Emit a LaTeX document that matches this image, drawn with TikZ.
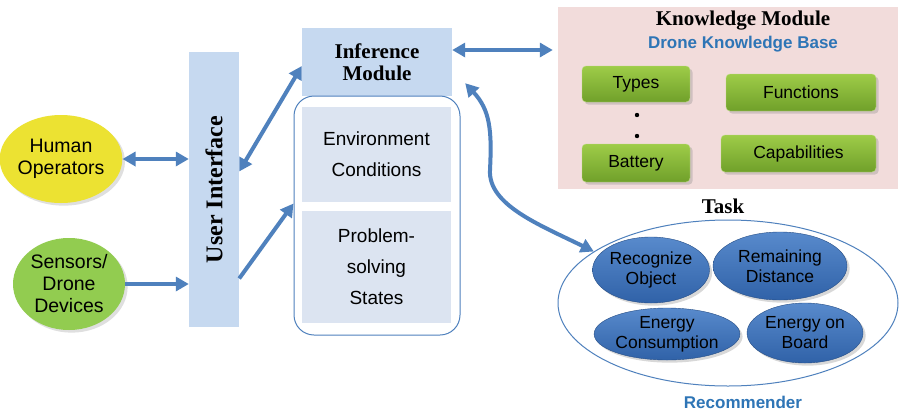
\documentclass[tikz,border=0pt]{standalone}
\usepackage{fontspec}
\setmainfont{Liberation Sans}
\newfontfamily\titlefont{Liberation Serif}
\usepackage{graphicx}
\usepackage{xcolor}
\usepackage{tikz}
\usetikzlibrary{arrows.meta, shapes, shapes.geometric, positioning, calc, shadows}
\definecolor{arrowblue}{RGB}{79,129,189}
\definecolor{uiblue}{RGB}{198,217,240}
\definecolor{stategray}{RGB}{220,228,241}
\definecolor{kmpink}{RGB}{242,220,219}
\definecolor{titleblue}{RGB}{46,117,182}
\definecolor{humanyellow}{RGB}{236,226,50}
\definecolor{sensorgreen}{RGB}{146,204,80}
\definecolor{kgreentop}{RGB}{158,204,72}
\definecolor{kgreenbot}{RGB}{112,160,42}
\definecolor{tasktop}{RGB}{88,138,204}
\definecolor{taskbot}{RGB}{48,98,168}
\tikzstyle{link} = [line width=4pt, arrowblue, -{Triangle[length=13pt,width=14pt]}]
\tikzstyle{twolink} = [link, {Triangle[length=13pt,width=14pt]}-{Triangle[length=13pt,width=14pt]}]
\tikzstyle{actor} = [ellipse, inner sep=0pt, align=center, drop shadow={opacity=0.25}, font=\fontsize{19.5}{22}\selectfont]
\tikzstyle{panel} = [rectangle, inner sep=0pt, align=center]
\tikzstyle{boldtitle} = [font=\titlefont\bfseries\fontsize{21}{22}\selectfont, align=center]
\tikzstyle{statebox} = [panel, fill=stategray, minimum width=149pt, font=\fontsize{19}{31}\selectfont]
\tikzstyle{kbox} = [panel, rounded corners=4pt, top color=kgreentop, bottom color=kgreenbot, draw=kgreentop!70!white, drop shadow={opacity=0.3}, font=\fontsize{17.5}{20}\selectfont]
\tikzstyle{taskitem} = [ellipse, inner sep=0pt, align=center, top color=tasktop, bottom color=taskbot, draw=taskbot!80!black, drop shadow={opacity=0.3}, font=\fontsize{17.5}{20}\selectfont]

\begin{document}
\begin{tikzpicture}[x=1pt,y=-1pt]
\useasboundingbox[fill=white] (0,0) rectangle (900,413);

% inputs and user interface
\node[actor, fill=humanyellow, minimum width=112pt, minimum height=88pt] (hum) at (61,159) {Human\\Operators};
\node[actor, fill=sensorgreen, minimum width=112pt, minimum height=92pt] (sen) at (69,284) {Sensors/\\Drone\\Devices};
\node[panel, fill=uiblue, minimum width=50pt, minimum height=275pt] (ui) at (214,189.5)
  {\rotatebox{90}{\titlefont\bfseries\fontsize{24}{26}\selectfont User Interface}};

% inference module
\node[panel, fill=uiblue, minimum width=150pt, minimum height=68pt, boldtitle] (inf) at (377,62) {Inference\\Module};
\node[panel, draw=arrowblue, line width=1pt, rounded corners=20pt, minimum width=166pt, minimum height=239pt] (cont) at (377,215.5) {};
\node[statebox, minimum height=95pt] (env) at (376.5,154.5) {Environment\\Conditions};
\node[statebox, minimum height=112pt] (prob) at (376.5,267) {Problem-\\solving\\States};

% knowledge module
\node[panel, fill=kmpink, minimum width=340pt, minimum height=182pt] (km) at (728,98) {};
\node[boldtitle] (kmtitle) at (743,21) {Knowledge Module};
\node[font=\bfseries\fontsize{17}{19}\selectfont, text=titleblue] (kmbase) at (743,44) {Drone Knowledge Base};
\node[kbox, minimum width=108pt, minimum height=36pt] (types) at (636,84) {Types};
\node[kbox, minimum width=150pt, minimum height=37pt] (func) at (801,92.5) {Functions};
\node[kbox, minimum width=108pt, minimum height=38pt] (batt) at (636,163) {Battery};
\node[kbox, minimum width=155pt, minimum height=37pt] (capab) at (798.5,153.5) {Capabilities};
\fill (637,115) circle (2.2pt) (637,136) circle (2.2pt);

% recommender
\node[boldtitle] (task) at (723,206) {Task};
\node[ellipse, draw=arrowblue, line width=1pt, minimum width=340pt, minimum height=166pt] (rec) at (728,303) {};
\node[font=\bfseries\fontsize{17}{19}\selectfont, text=titleblue] (recname) at (743,402) {Recommender};
\node[taskitem, minimum width=102pt, minimum height=66pt] (recog) at (651,270) {Recognize\\Object};
\node[taskitem, minimum width=134pt, minimum height=68pt] (dist) at (780,266) {Remaining\\Distance};
\node[taskitem, minimum width=144pt, minimum height=52pt] (cons) at (667,334) {Energy\\Consumption};
\node[taskitem, minimum width=116pt, minimum height=60pt] (board) at (805,333) {Energy on\\Board};

% connectors
\draw[twolink] (hum) -- (hum -| ui.west);
\draw[link] (sen) -- (sen -| ui.west);
\draw[twolink] ([yshift=18pt]ui.east) -- ([yshift=-4pt]inf.west);
\draw[link] ([yshift=-89pt]ui.east) -- ([yshift=12pt]cont.west);
\draw[twolink, shorten >=5pt] ([yshift=12pt]inf.east) -- ([yshift=48pt]km.west);
\draw[twolink] (rec.159) .. controls (540,225) and (488,205) .. (490,170)
  .. controls (492,130) and (490,110) .. ([xshift=13pt,yshift=13pt]inf.south east);
\end{tikzpicture}
\end{document}
